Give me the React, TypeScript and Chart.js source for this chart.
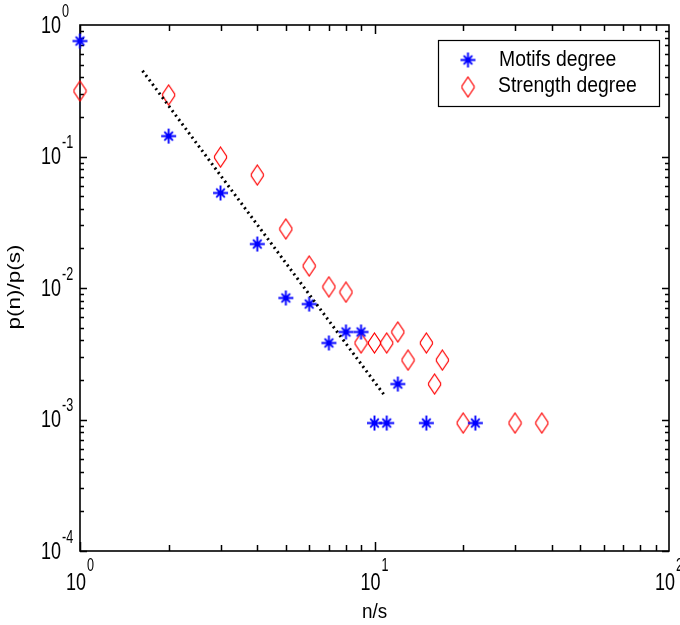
import React, { useEffect, useRef } from "react";
import { Chart, registerables } from "chart.js";

Chart.register(...registerables);

// ---- data ----
const motifsX = [1, 2, 3, 4, 5, 6, 7, 8, 9, 12, 10, 11, 15, 22];
const motifsY = [0.755, 0.143, 0.0528, 0.0216, 0.0084, 0.00755, 0.00382, 0.00463, 0.00463, 0.00186, 0.00094, 0.00094, 0.00094, 0.00094];
const strengthX = [1, 2, 3, 4, 5, 6, 7, 8, 9, 10, 11, 12, 13, 15, 16, 17, 20, 30, 37];
const strengthY = [0.315, 0.294, 0.099, 0.0723, 0.0281, 0.0147, 0.0102, 0.0093, 0.00382, 0.00382, 0.00382, 0.00463, 0.00283, 0.00382, 0.00186, 0.00283, 0.00094, 0.00094, 0.00094];
const fitX = [1.63, 10.9];
const fitY = [0.449, 0.00149];
const seriesNames = ["Motifs degree", "Strength degree"];
const xTickExponents = [0, 1, 2];
const yTickExponents = [0, -1, -2, -3, -4];
const xTitle = "n/s";
const yTitle = "p(n)/p(s)";

const FONT = "'Liberation Sans', Arial, Helvetica, sans-serif";

function makeStar(): HTMLCanvasElement {
  const c = document.createElement("canvas");
  c.width = 17;
  c.height = 17;
  const g = c.getContext("2d")!;
  const m = 8.5;
  g.strokeStyle = "#0000ff";
  g.lineWidth = 1.9;
  g.beginPath();
  g.moveTo(m, 1);
  g.lineTo(m, 16);
  g.moveTo(1, m);
  g.lineTo(16, m);
  const d = 4.3;
  g.moveTo(m - d, m - d);
  g.lineTo(m + d, m + d);
  g.moveTo(m - d, m + d);
  g.lineTo(m + d, m - d);
  g.stroke();
  g.fillStyle = "#0000ff";
  g.beginPath();
  g.arc(m, m, 2.8, 0, Math.PI * 2);
  g.fill();
  return c;
}

function makeDiamond(): HTMLCanvasElement {
  const c = document.createElement("canvas");
  const w = 15;
  const h = 22;
  c.width = w;
  c.height = h;
  const g = c.getContext("2d")!;
  g.strokeStyle = "#ff0000";
  g.lineWidth = 1.2;
  const cx = w / 2;
  g.beginPath();
  g.moveTo(cx, 1);
  g.lineTo(w - 1.5, h * 0.45);
  g.lineTo(w - 1.5, h * 0.55);
  g.lineTo(cx, h - 1);
  g.lineTo(1.5, h * 0.55);
  g.lineTo(1.5, h * 0.45);
  g.closePath();
  g.stroke();
  return c;
}

function scaledText(
  ctx: CanvasRenderingContext2D,
  text: string,
  x: number,
  y: number,
  size: number,
  sx: number,
  align: "left" | "right" | "center"
) {
  ctx.save();
  ctx.font = `${size}px ${FONT}`;
  ctx.textBaseline = "middle";
  ctx.textAlign = align;
  ctx.translate(x, y);
  ctx.scale(sx, 1);
  ctx.fillText(text, 0, 0);
  ctx.restore();
}

function textWidth(ctx: CanvasRenderingContext2D, text: string, size: number, sx: number) {
  ctx.save();
  ctx.font = `${size}px ${FONT}`;
  const w = ctx.measureText(text).width * sx;
  ctx.restore();
  return w;
}

const BASE_SIZE = 24;
const BASE_SX = 0.75;
const EXP_SIZE = 18;
const EXP_SX = 0.7;

export default function App() {
  const ref = useRef<HTMLCanvasElement | null>(null);

  useEffect(() => {
    if (!ref.current) return;
    const star = makeStar();
    const diamond = makeDiamond();

    const axesPlugin = {
      id: "matlabAxes",
      beforeDatasetsDraw(chart: any) {
        const ctx: CanvasRenderingContext2D = chart.ctx;
        const { left, right, top, bottom } = chart.chartArea;
        const xs = chart.scales.x;
        const ys = chart.scales.y;
        ctx.save();
        ctx.strokeStyle = "#000";
        ctx.lineWidth = 1.5;
        ctx.beginPath();
        // x ticks
        for (let d = 0; d < 2; d++) {
          for (let k = 1; k <= 9; k++) {
            const v = k * Math.pow(10, d);
            const px = Math.round(xs.getPixelForValue(v)) + 0.5;
            const len = k === 1 ? 9 : 6;
            ctx.moveTo(px, bottom);
            ctx.lineTo(px, bottom - len);
            ctx.moveTo(px, top);
            ctx.lineTo(px, top + len);
          }
        }
        // y ticks
        for (let d = -4; d < 0; d++) {
          for (let k = 1; k <= 9; k++) {
            const v = k * Math.pow(10, d);
            const py = Math.round(ys.getPixelForValue(v)) + 0.5;
            const len = k === 1 ? 7 : 4;
            ctx.moveTo(left, py);
            ctx.lineTo(left + len, py);
            ctx.moveTo(right, py);
            ctx.lineTo(right - len, py);
          }
        }
        ctx.stroke();
        ctx.lineWidth = 1.6;
        ctx.strokeRect(left, top, right - left, bottom - top);

        ctx.fillStyle = "#000";
        // x tick labels
        xTickExponents.forEach((e) => {
          const px = xs.getPixelForValue(Math.pow(10, e));
          const es = String(e);
          const wb = textWidth(ctx, "10", BASE_SIZE, BASE_SX);
          const we = textWidth(ctx, es, EXP_SIZE, EXP_SX);
          const start = px - (wb + we + 1) / 2;
          scaledText(ctx, "10", start, bottom + 32, BASE_SIZE, BASE_SX, "left");
          scaledText(ctx, es, start + wb + 1, bottom + 15, EXP_SIZE, EXP_SX, "left");
        });
        // y tick labels
        yTickExponents.forEach((e) => {
          const py = ys.getPixelForValue(Math.pow(10, e));
          const es = String(e);
          scaledText(ctx, "10", left - 19, py + 1, BASE_SIZE, BASE_SX, "right");
          scaledText(ctx, es, left - 18, py - 13, EXP_SIZE, EXP_SX, "left");
        });
        // axis titles
        scaledText(ctx, xTitle, (left + right) / 2, 612, 21, 0.9, "center");
        ctx.save();
        ctx.translate(15, 287);
        ctx.rotate(-Math.PI / 2);
        ctx.font = `18px ${FONT}`;
        ctx.textAlign = "center";
        ctx.textBaseline = "middle";
        ctx.scale(1.25, 1);
        ctx.fillText(yTitle, 0, 0);
        ctx.restore();
        ctx.restore();
      },
      afterDraw(chart: any) {
        const ctx: CanvasRenderingContext2D = chart.ctx;
        ctx.save();
        ctx.fillStyle = "#fff";
        ctx.fillRect(438, 40, 222, 67);
        ctx.strokeStyle = "#000";
        ctx.lineWidth = 1.2;
        ctx.strokeRect(438.5, 40.5, 221, 66);
        ctx.drawImage(star, 468 - star.width / 2, 60 - star.height / 2);
        ctx.drawImage(diamond, 468 - diamond.width / 2, 87 - diamond.height / 2);
        ctx.fillStyle = "#000";
        scaledText(ctx, seriesNames[0], 499, 60, 22, 0.88, "left");
        scaledText(ctx, seriesNames[1], 498, 86, 22, 0.88, "left");
        ctx.restore();
      },
    };

    const chart = new Chart(ref.current, {
      type: "scatter",
      data: {
        datasets: [
          {
            label: "fit",
            data: fitX.map((x, i) => ({ x, y: fitY[i] })),
            showLine: true,
            borderColor: "#000",
            borderWidth: 3,
            borderDash: [2, 3.5],
            borderCapStyle: "butt",
            pointRadius: 0,
            clip: false,
            order: 0,
          } as any,
          {
            label: seriesNames[0],
            data: motifsX.map((x, i) => ({ x, y: motifsY[i] })),
            pointStyle: star,
            pointRadius: 8,
            showLine: false,
            clip: false,
            order: 1,
          } as any,
          {
            label: seriesNames[1],
            data: strengthX.map((x, i) => ({ x, y: strengthY[i] })),
            pointStyle: diamond,
            pointRadius: 8,
            showLine: false,
            clip: false,
            order: 2,
          } as any,
        ],
      },
      options: {
        animation: false,
        responsive: false,
        devicePixelRatio: 1,
        events: [],
        layout: { padding: { left: 80, top: 25, right: 11, bottom: 74 } },
        scales: {
          x: { type: "logarithmic", min: 1, max: 100, display: false },
          y: { type: "logarithmic", min: 1e-4, max: 1, display: false },
        },
        plugins: { legend: { display: false }, tooltip: { enabled: false } },
      },
      plugins: [axesPlugin],
    });
    return () => chart.destroy();
  }, []);

  return (
    <div style={{ position: "absolute", left: 0, top: 0, width: 680, height: 625, background: "#fff" }}>
      <canvas ref={ref} width={680} height={625} style={{ width: 680, height: 625, display: "block" }} />
    </div>
  );
}
